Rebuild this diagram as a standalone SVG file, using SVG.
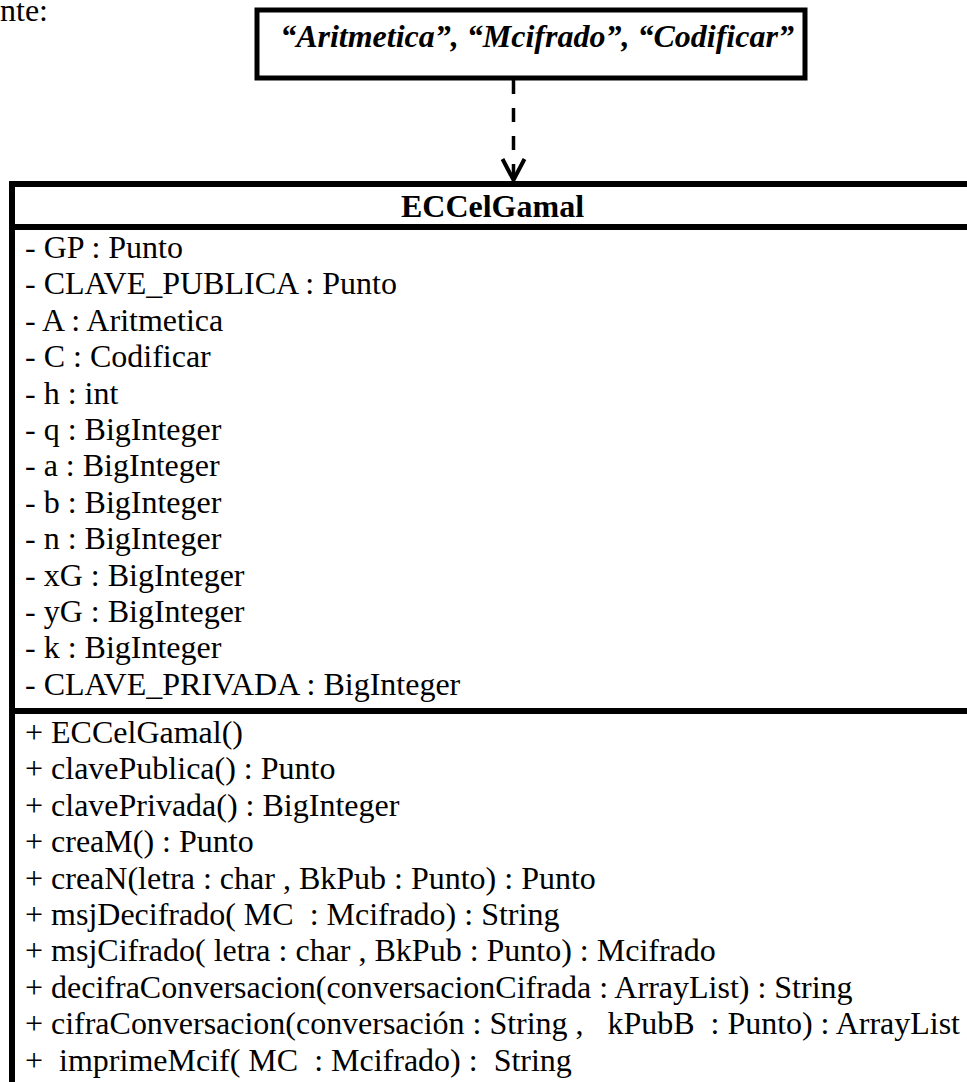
<svg xmlns="http://www.w3.org/2000/svg" width="967" height="1082" viewBox="0 0 967 1082">
<style>
text{font-family:'Liberation Serif','Times New Roman',serif;font-size:32px;fill:#000;white-space:pre}
.b{font-weight:bold}
.i{font-style:italic}
.ln{stroke:#000;stroke-width:6;fill:none}
</style>
<defs>
<marker id="open" viewBox="-26 -14 28 28" markerWidth="28" markerHeight="28" refX="0" refY="0" orient="auto" markerUnits="userSpaceOnUse" overflow="visible">
<path d="M-22,-11 L-1,0 L-22,11" fill="none" stroke="#000" stroke-width="4"/>
</marker>
</defs>
<rect width="967" height="1082" fill="#fff"/>
<text x="0" y="21">nte:</text>
<g id="interfaces">
<rect x="257" y="10" width="548" height="68" fill="#fff" stroke="#000" stroke-width="5"/>
<text class="b i" x="537" y="47" text-anchor="middle">“Aritmetica”, “Mcifrado”, “Codificar”</text>
</g>
<g id="connectors">
<line x1="513.5" y1="80" x2="513.5" y2="181" stroke="#000" stroke-width="3.5" stroke-dasharray="14 14" marker-end="url(#open)"/>
</g>
<g id="ECCelGamal">
<line class="ln" x1="9" y1="184" x2="967" y2="184"/>
<line class="ln" x1="9" y1="227" x2="967" y2="227"/>
<line class="ln" x1="9" y1="711" x2="967" y2="711"/>
<line class="ln" x1="12" y1="181" x2="12" y2="1082"/>
<text class="b" x="492.5" y="217" text-anchor="middle">ECCelGamal</text>
<text x="25" y="258">- GP : Punto</text>
<text x="25" y="294.4">- CLAVE_PUBLICA : Punto</text>
<text x="25" y="330.8">- A : Aritmetica</text>
<text x="25" y="367.2">- C : Codificar</text>
<text x="25" y="403.6">- h : int</text>
<text x="25" y="440">- q : BigInteger</text>
<text x="25" y="476.4">- a : BigInteger</text>
<text x="25" y="512.8">- b : BigInteger</text>
<text x="25" y="549.2">- n : BigInteger</text>
<text x="25" y="585.6">- xG : BigInteger</text>
<text x="25" y="622">- yG : BigInteger</text>
<text x="25" y="658.4">- k : BigInteger</text>
<text x="25" y="694.8">- CLAVE_PRIVADA : BigInteger</text>
<text x="25" y="743">+ ECCelGamal()</text>
<text x="25" y="779.4">+ clavePublica() : Punto</text>
<text x="25" y="815.8">+ clavePrivada() : BigInteger</text>
<text x="25" y="852.2">+ creaM() : Punto</text>
<text x="25" y="888.6">+ creaN(letra : char , BkPub : Punto) : Punto</text>
<text x="25" y="925">+ msjDecifrado( MC  : Mcifrado) : String</text>
<text x="25" y="961.4">+ msjCifrado( letra : char , BkPub : Punto) : Mcifrado</text>
<text x="25" y="997.8">+ decifraConversacion(conversacionCifrada : ArrayList) : String</text>
<text x="25" y="1034.2" textLength="935" lengthAdjust="spacing">+ cifraConversacion(conversación : String ,   kPubB  : Punto) : ArrayList</text>
<text x="25" y="1070.6">+  imprimeMcif( MC  : Mcifrado) :  String</text>
</g>
</svg>
